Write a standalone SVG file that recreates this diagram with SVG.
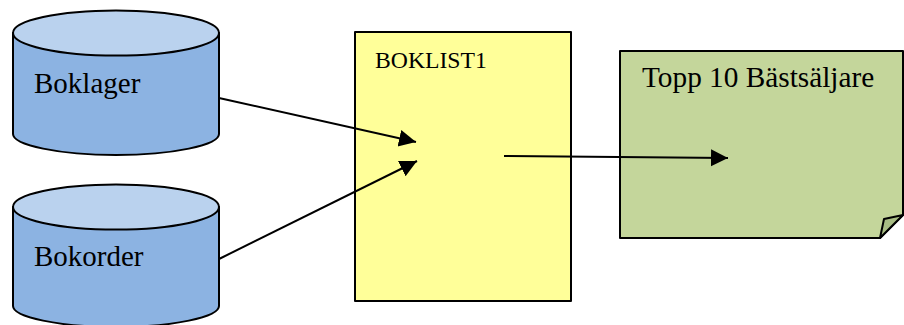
<svg xmlns="http://www.w3.org/2000/svg" width="904" height="325" viewBox="0 0 904 325">
<style>
.s{stroke:#000;stroke-width:2;stroke-linejoin:round}
.side{fill:#8cb3e2}
.top{fill:#bad2ee}
.t{font-family:"Liberation Serif",serif;fill:#000}
.c{fill:none;stroke:#000;stroke-width:2}
</style>
<defs>
<marker id="a" markerUnits="userSpaceOnUse" markerWidth="18" markerHeight="18" refX="17" refY="8.500" orient="auto"><path d="M0 0L17 8.500L0 17Z" fill="#000"/></marker>
</defs>
<rect width="904" height="325" fill="#fff"/>
<g id="boklager">
<path class="s side" d="M13 33V134C13 145 59 155 116 155S219 145 219 134V33Z"/>
<ellipse class="s top" cx="116" cy="33" rx="103" ry="22.500"/>
<text class="t" x="34" y="93" font-size="29">Boklager</text>
</g>
<g id="bokorder">
<path class="s side" d="M13 207V306C13 317 59 327 116 327S219 317 219 306V207Z"/>
<ellipse class="s top" cx="116" cy="207" rx="103" ry="22.500"/>
<text class="t" x="34" y="266" font-size="29">Bokorder</text>
</g>
<g id="boklist1">
<rect class="s" x="355" y="32" width="216" height="269" fill="#ffff99"/>
<text class="t" x="375" y="68" font-size="23.700">BOKLIST1</text>
</g>
<g id="topp10">
<path class="s" fill="#c4d69b" d="M620 51H903V215L880 238H620Z"/>
<path class="s" fill="#a8bd84" d="M880 238L884 219L903 215Z"/>
<text class="t" x="642" y="87" font-size="29.300">Topp 10 Bästsäljare</text>
</g>
<g id="connectors">
<line class="c" x1="219" y1="98" x2="416" y2="142" marker-end="url(#a)"/>
<line class="c" x1="219" y1="259" x2="417" y2="161" marker-end="url(#a)"/>
<line class="c" x1="504" y1="156" x2="728" y2="158" marker-end="url(#a)"/>
</g>
</svg>
